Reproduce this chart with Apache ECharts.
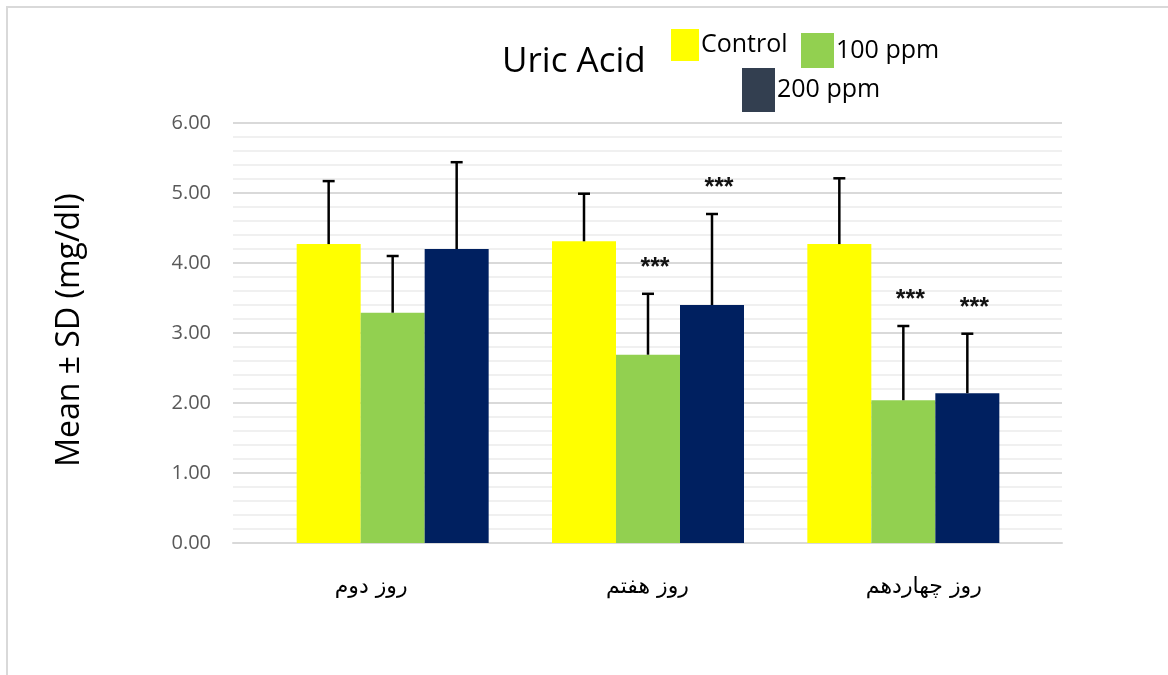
<!DOCTYPE html>
<html>
<head>
<meta charset="utf-8">
<script src="https://cdn.jsdelivr.net/npm/echarts@6/dist/echarts.min.js"></script>
<style>html,body{margin:0;padding:0;background:#fff}#c{width:1168px;height:675px}</style>
</head>
<body>
<div id="c"></div>
<script>
const categories = ['روز دوم', 'روز هفتم', 'روز چهاردهم'];
const seriesNames = ['Control', '100 ppm', '200 ppm'];
const controlMean = [4.27, 4.31, 4.27];
const controlSD   = [0.90, 0.68, 0.94];
const ppm100Mean  = [3.29, 2.69, 2.04];
const ppm100SD    = [0.81, 0.87, 1.06];
const ppm200Mean  = [4.20, 3.40, 2.14];
const ppm200SD    = [1.24, 1.30, 0.85];
const ppm100Sig   = ['', '***', '***'];
const ppm200Sig   = ['', '***', '***'];
const controlSig  = ['', '', ''];
const yTicks = ['0.00', '1.00', '2.00', '3.00', '4.00', '5.00', '6.00'];

const barColors = ['#FFFF00', '#92D050', '#002060'];
const legendColors = ['#FFFF00', '#92D050', '#333F50'];
const BAR_W = 64;

const means = [controlMean, ppm100Mean, ppm200Mean];
const sds = [controlSD, ppm100SD, ppm200SD];
const sigs = [controlSig, ppm100Sig, ppm200Sig];

const chart = echarts.init(document.getElementById('c'));

const barSeries = seriesNames.map((n, i) => ({
  name: n, type: 'bar', xAxisIndex: 1, yAxisIndex: 1,
  data: means[i], barWidth: BAR_W, barGap: '0%',
  itemStyle: { color: barColors[i] }, z: 2
}));

const errSeries = seriesNames.map((n, i) => ({
  name: n + ' err', type: 'custom', xAxisIndex: 1, yAxisIndex: 1, z: 5,
  data: means[i].map((m, k) => [k, m, sds[i][k]]),
  renderItem: function (params, api) {
    const off = (i - 1) * BAR_W;
    const base = api.coord([api.value(0), api.value(1)]);
    const top = api.coord([api.value(0), api.value(1) + api.value(2)]);
    const x = base[0] + off;
    const children = [
      { type: 'line', shape: { x1: x, y1: base[1], x2: x, y2: top[1] }, style: { stroke: '#000', lineWidth: 2.5 } },
      { type: 'line', shape: { x1: x - 6, y1: top[1], x2: x + 6, y2: top[1] }, style: { stroke: '#000', lineWidth: 2.5 } }
    ];
    const s = sigs[i][api.value(0)];
    if (s) {
      children.push({ type: 'text', style: { text: s, x: x + 7, y: top[1] - 26, textAlign: 'center', textVerticalAlign: 'middle', fontSize: 25, fontWeight: 'bold', fontFamily: 'Liberation Sans', fill: '#111' } });
    }
    return { type: 'group', children: children };
  }
}));

chart.setOption({
  animation: false,
  title: { text: 'Uric Acid', left: 497, top: 40, textStyle: { fontSize: 35, fontWeight: 'normal', color: '#000', fontFamily: 'Open Sans' } },
  legend: [0, 1, 2].map(i => ({
    data: [{ name: seriesNames[i], itemStyle: { color: legendColors[i] } }],
    selectedMode: false, icon: 'rect', padding: 0,
    left: [671, 801, 742][i], top: [29, 33, 68][i],
    itemWidth: [28, 33, 33][i], itemHeight: [32, 35, 44][i],
    textStyle: { fontSize: 25, color: '#000', fontFamily: 'Open Sans', padding: [0, 0, 0, -3] }
  })),
  grid: [
    { left: 233, right: 106, top: 123, bottom: 132 },
    { left: 265, right: 137, top: 123, bottom: 132 }
  ],
  xAxis: [
    { type: 'category', gridIndex: 0, data: categories,
      axisLine: { lineStyle: { color: '#d9d9d9', width: 2 } }, axisTick: { show: false },
      axisLabel: { fontSize: 22, color: '#000', margin: 33, fontFamily: 'DejaVu Sans' } },
    { type: 'category', gridIndex: 1, data: categories, show: false }
  ],
  yAxis: [
    { type: 'value', gridIndex: 0, min: 0, max: 6, interval: 1,
      axisLine: { show: false }, axisTick: { show: false },
      axisLabel: { fontSize: 20, color: '#595959', margin: 22, fontFamily: 'Open Sans',
        formatter: v => yTicks[Math.round(v)] },
      splitLine: { lineStyle: { color: '#d9d9d9', width: 2 } },
      minorTick: { show: false, splitNumber: 5 },
      minorSplitLine: { show: true, lineStyle: { color: '#f0f0f0', width: 2 } } },
    { type: 'value', gridIndex: 1, min: 0, max: 6, show: false, splitLine: { show: false } }
  ],
  graphic: [
    { type: 'rect', shape: { x: 7, y: 7, width: 1200, height: 700 }, style: { fill: 'none', stroke: '#d9d9d9', lineWidth: 2 }, z: -10 },
    { type: 'text', x: 70, y: 330, rotation: Math.PI / 2, style: { text: 'Mean ± SD (mg/dl)', fontSize: 32, fontFamily: 'Open Sans', fill: '#000', textAlign: 'center', textVerticalAlign: 'middle' } }
  ],
  series: barSeries.concat(errSeries)
});
</script>
</body>
</html>
